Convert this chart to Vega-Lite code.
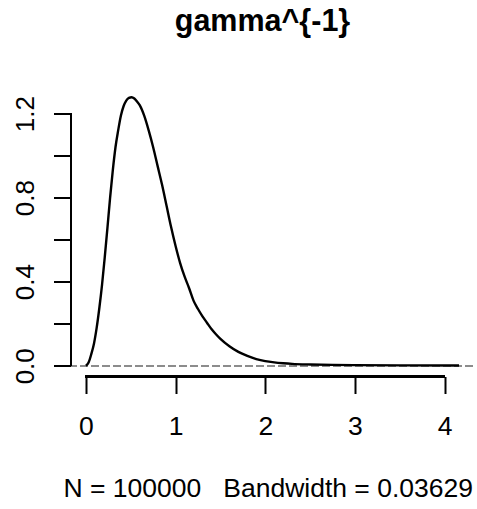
{
  "$schema": "https://vega.github.io/schema/vega-lite/v6.json",
  "autosize": {"type": "none"},
  "padding": {"left": 71, "top": 86.5, "right": 4, "bottom": 132.5},
  "width": 402,
  "height": 290,
  "background": "white",
  "config": {
    "view": {"stroke": null},
    "font": "Liberation Sans"
  },
  "title": {
    "text": "gamma^{-1}",
    "font": "Liberation Sans",
    "fontSize": 30.5,
    "fontWeight": "bold",
    "color": "black",
    "anchor": "middle",
    "frame": "group",
    "baseline": "alphabetic",
    "offset": 25,
    "dx": -9.5
  },
  "data": {
    "values": [
      {"x": 0.00, "density": 0.000},
      {"x": 0.03, "density": 0.015},
      {"x": 0.06, "density": 0.055},
      {"x": 0.09, "density": 0.105},
      {"x": 0.12, "density": 0.180},
      {"x": 0.15, "density": 0.275},
      {"x": 0.18, "density": 0.385},
      {"x": 0.21, "density": 0.515},
      {"x": 0.24, "density": 0.655},
      {"x": 0.27, "density": 0.800},
      {"x": 0.30, "density": 0.930},
      {"x": 0.33, "density": 1.040},
      {"x": 0.36, "density": 1.120},
      {"x": 0.39, "density": 1.190},
      {"x": 0.42, "density": 1.235},
      {"x": 0.45, "density": 1.262},
      {"x": 0.48, "density": 1.275},
      {"x": 0.51, "density": 1.278},
      {"x": 0.54, "density": 1.272},
      {"x": 0.57, "density": 1.258},
      {"x": 0.60, "density": 1.240},
      {"x": 0.65, "density": 1.190},
      {"x": 0.70, "density": 1.120},
      {"x": 0.75, "density": 1.040},
      {"x": 0.80, "density": 0.950},
      {"x": 0.85, "density": 0.860},
      {"x": 0.90, "density": 0.760},
      {"x": 0.95, "density": 0.660},
      {"x": 1.00, "density": 0.570},
      {"x": 1.05, "density": 0.490},
      {"x": 1.10, "density": 0.425},
      {"x": 1.15, "density": 0.370},
      {"x": 1.20, "density": 0.310},
      {"x": 1.25, "density": 0.270},
      {"x": 1.30, "density": 0.235},
      {"x": 1.35, "density": 0.205},
      {"x": 1.40, "density": 0.175},
      {"x": 1.45, "density": 0.150},
      {"x": 1.50, "density": 0.128},
      {"x": 1.60, "density": 0.093},
      {"x": 1.70, "density": 0.066},
      {"x": 1.80, "density": 0.047},
      {"x": 1.90, "density": 0.032},
      {"x": 2.00, "density": 0.022},
      {"x": 2.10, "density": 0.016},
      {"x": 2.20, "density": 0.012},
      {"x": 2.30, "density": 0.009},
      {"x": 2.50, "density": 0.006},
      {"x": 2.75, "density": 0.004},
      {"x": 3.00, "density": 0.003},
      {"x": 3.50, "density": 0.002},
      {"x": 4.16, "density": 0.001}
    ]
  },
  "layer": [
    {
      "description": "zero reference line across the plot region",
      "mark": {"type": "rule", "color": "#8c8c8c", "strokeWidth": 1, "strokeDash": [8, 3]},
      "encoding": {"y": {"datum": 0, "type": "quantitative", "scale": {"domain": [-0.0511, 1.329]}}}
    },
    {
      "description": "kernel density estimate",
      "mark": {"type": "line", "color": "black", "strokeWidth": 2.4, "interpolate": "monotone"},
      "encoding": {
        "x": {
          "field": "x",
          "type": "quantitative",
          "scale": {"domain": [-0.166, 4.316], "nice": false, "zero": false},
          "axis": {
            "values": [0, 1, 2, 3, 4],
            "format": ".0f",
            "domain": false,
            "grid": false,
            "tickSize": 17,
            "tickWidth": 2,
            "tickColor": "black",
            "labelFont": "Liberation Sans",
            "labelFontSize": 26.5,
            "labelColor": "black",
            "labelBaseline": "alphabetic",
            "labelPadding": 40.6,
            "labelFlush": false,
            "labelOverlap": false,
            "title": "N = 100000\u00a0\u00a0\u00a0Bandwidth = 0.03629",
            "titleFont": "Liberation Sans",
            "titleFontSize": 26.5,
            "titleFontWeight": "normal",
            "titleColor": "black",
            "titleAlign": "center",
            "titleBaseline": "alphabetic",
            "titleX": 196.7,
            "titleY": 120
          }
        },
        "y": {
          "field": "density",
          "type": "quantitative",
          "scale": {"domain": [-0.0511, 1.329], "nice": false, "zero": false},
          "axis": {
            "values": [0, 0.2, 0.4, 0.6, 0.8, 1.0, 1.2],
            "labelExpr": "indexof([0, 0.4, 0.8, 1.2], datum.value) >= 0 ? format(datum.value, '.1f') : ''",
            "domain": false,
            "grid": false,
            "tickSize": 17.5,
            "tickWidth": 2,
            "tickColor": "black",
            "labelFont": "Liberation Sans",
            "labelFontSize": 26,
            "labelColor": "black",
            "labelAngle": -90,
            "labelAlign": "center",
            "labelBaseline": "alphabetic",
            "labelPadding": 20,
            "labelFlush": false,
            "labelOverlap": false,
            "title": null
          }
        }
      }
    },
    {
      "description": "x axis line from the first to the last tick",
      "mark": {"type": "rule", "color": "black", "strokeWidth": 2},
      "encoding": {
        "x": {"datum": 0, "type": "quantitative"},
        "x2": {"datum": 4},
        "y": {"datum": -0.0511, "type": "quantitative"}
      }
    },
    {
      "description": "y axis line from the first to the last tick",
      "mark": {"type": "rule", "color": "black", "strokeWidth": 2},
      "encoding": {
        "x": {"datum": -0.166, "type": "quantitative"},
        "y": {"datum": 0, "type": "quantitative"},
        "y2": {"datum": 1.2}
      }
    }
  ]
}
